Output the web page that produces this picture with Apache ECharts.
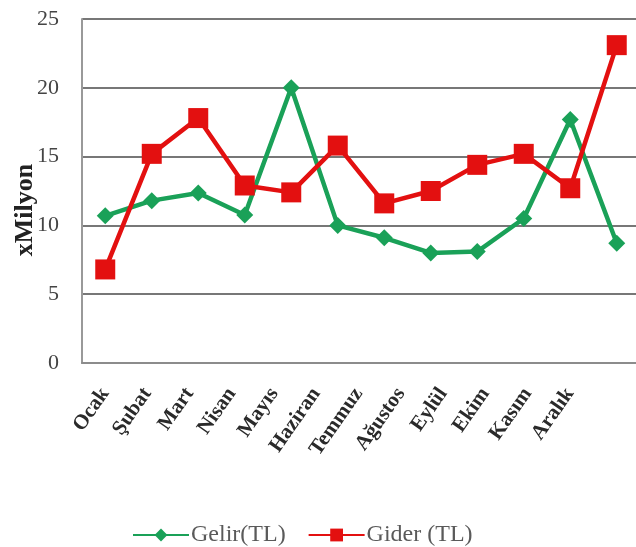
<!DOCTYPE html>
<html><head><meta charset="utf-8">
<script src="https://cdn.jsdelivr.net/npm/echarts@6/dist/echarts.min.js"></script>
<style>html,body{margin:0;padding:0;background:#fff}#c{width:636px;height:547px}</style>
</head><body><div id="c"></div>
<script>
const categories = ['Ocak','Şubat','Mart','Nisan','Mayıs','Haziran','Temmuz','Ağustos','Eylül','Ekim','Kasım','Aralık'];
const gelir = [10.7, 11.8, 12.35, 10.75, 20.0, 10.0, 9.1, 8.0, 8.1, 10.5, 17.7, 8.7];
const gider = [6.8, 15.2, 17.8, 12.9, 12.4, 15.8, 11.6, 12.5, 14.4, 15.2, 12.7, 23.1];
const yTicks = [0, 5, 10, 15, 20, 25];
const seriesNames = ['Gelir(TL)', 'Gider (TL)'];

const chart = echarts.init(document.getElementById('c'));
const font = 'Liberation Serif, Times New Roman, serif';
chart.setOption({
  animation: false,
  textStyle: {fontFamily: font},
  grid: [
    {left: 82, top: 19, right: -4, bottom: 184, outerBoundsMode: 'none', containLabel: false},
    {left: 84, top: 19, right: 45, bottom: 184, outerBoundsMode: 'none', containLabel: false}
  ],
  legend: {
    top: 518, left: 127,
    itemWidth: 56, itemHeight: 16, itemGap: 22,
    textStyle: {fontFamily: font, fontSize: 24, color: '#5a5a5a', padding: [0, 0, 0, -3]},
    data: seriesNames
  },
  xAxis: [{
    type: 'category', data: categories, boundaryGap: true, gridIndex: 0,
    axisLine: {show: true, lineStyle: {color: '#8c8c8c', width: 2}},
    axisTick: {show: false},
    axisLabel: {show: false}
  }, {
    type: 'category', data: categories, boundaryGap: true, gridIndex: 1,
    axisLine: {show: false}, axisTick: {show: false}, splitLine: {show: false},
    axisLabel: {rotate: 55, fontSize: 21, fontWeight: 'bold', color: '#2a2a2a', fontFamily: font, margin: 27, interval: 0}
  }],
  yAxis: [{
    type: 'value', min: yTicks[0], max: yTicks[yTicks.length-1], interval: 5, gridIndex: 0,
    name: 'xMilyon', nameLocation: 'middle', nameGap: 44, nameRotate: 90, nameMoveOverlap: false,
    nameTextStyle: {fontSize: 26, fontWeight: 'bold', color: '#222', fontFamily: font, padding: [0, 0, 0, -38]},
    axisLine: {show: true, lineStyle: {color: '#999', width: 2}},
    axisTick: {show: false},
    axisLabel: {fontSize: 22, color: '#444', fontFamily: font, margin: 23},
    splitLine: {show: true, lineStyle: {color: '#777', width: 2}}
  }, {
    type: 'value', min: 0, max: 25, gridIndex: 1, show: false, splitLine: {show: false}
  }],
  series: [
    {name: seriesNames[0], type: 'line', data: gelir, xAxisIndex: 0, yAxisIndex: 0,
     lineStyle: {color: '#1aa158', width: 4.5}, itemStyle: {color: '#1aa158'},
     symbol: 'diamond', symbolSize: 17},
    {name: seriesNames[1], type: 'line', data: gider, xAxisIndex: 0, yAxisIndex: 0,
     lineStyle: {color: '#e31010', width: 4.5}, itemStyle: {color: '#e31010'},
     symbol: 'rect', symbolSize: 20}
  ]
});
</script></body></html>
